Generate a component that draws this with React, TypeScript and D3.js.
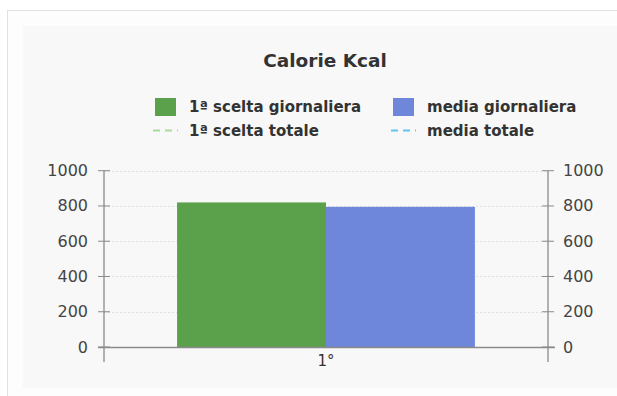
import React from "react";
import * as d3 from "d3";

// Chart data
const categories: string[] = ["1°"];
const seriesNames: string[] = ["1ª scelta giornaliera", "media giornaliera"];
const sceltaGiornaliera: number[] = [820];
const mediaGiornaliera: number[] = [795];
const lineLegend: string[] = ["1ª scelta totale", "media totale"];
const yTicks: number[] = [0, 200, 400, 600, 800, 1000];

const W = 617;
const H = 396;
const FONT = "Verdana, 'DejaVu Sans', sans-serif";

const barColors = ["#5ba14b", "#6f87da"];
const lineColors = ["#a9d99c", "#5cc6ee"];

export default function App() {
  const left = 104;
  const right = 548;
  const top = 170.7;
  const bottom = 347;

  const y = d3.scaleLinear().domain([0, 1000]).range([bottom, top]);
  const x0 = d3.scaleBand<string>().domain(categories).range([left, right]).padding(0.197);
  const x1 = d3
    .scaleBand<string>()
    .domain(seriesNames)
    .range([0, x0.bandwidth()])
    .padding(0);

  const values = [sceltaGiornaliera, mediaGiornaliera];

  const axisColor = "#8a8a8a";
  const tickText = "#444";

  return (
    <div style={{ position: "absolute", left: 0, top: 0 }}>
      <svg width={W} height={H} style={{ display: "block", fontFamily: FONT }}>
        <rect x={0} y={0} width={W} height={H} fill="#ffffff" />
        {/* outer frame */}
        <rect x={7.5} y={10.5} width={W} height={H} fill="#fdfdfd" stroke="#e2e2e2" strokeWidth={1} />
        {/* inner panel */}
        <rect x={23} y={26} width={W - 23} height={362} fill="#f8f8f8" />

        {/* title */}
        <text x={325} y={67} textAnchor="middle" fontSize={18.5} fontWeight="bold" fill="#333">
          Calorie Kcal
        </text>

        {/* legend: bars */}
        {seriesNames.map((name, i) => {
          const lx = i === 0 ? 155 : 393;
          return (
            <g key={name}>
              <rect x={lx} y={98} width={21} height={18} fill={barColors[i]} />
              <text x={lx + 34} y={112} fontSize={15} fontWeight="bold" fill="#333">
                {name}
              </text>
            </g>
          );
        })}
        {/* legend: reference lines */}
        {lineLegend.map((name, i) => {
          const lx = i === 0 ? 153 : 391;
          return (
            <g key={name}>
              <line
                x1={lx}
                x2={lx + 25}
                y1={130.5}
                y2={130.5}
                stroke={lineColors[i]}
                strokeWidth={2}
                strokeDasharray="7,5"
              />
              <text x={lx + 36} y={136} fontSize={15} fontWeight="bold" fill="#333">
                {name}
              </text>
            </g>
          );
        })}

        {/* gridlines */}
        {yTicks.filter((t) => t > 0).map((t) => (
          <line
            key={"g" + t}
            x1={left}
            x2={right}
            y1={Math.round(y(t)) + 0.5}
            y2={Math.round(y(t)) + 0.5}
            stroke="#e0e0e0"
            strokeWidth={1}
            strokeDasharray="2,2"
          />
        ))}

        {/* bars */}
        {categories.map((c, ci) => (
          <g key={c} transform={`translate(${x0(c)},0)`}>
            {seriesNames.map((s, si) => (
              <rect
                key={s}
                x={x1(s)}
                y={y(values[si][ci])}
                width={x1.bandwidth()}
                height={bottom - y(values[si][ci])}
                fill={barColors[si]}
              />
            ))}
          </g>
        ))}

        {/* x axis */}
        <line x1={98} x2={555} y1={bottom + 0.5} y2={bottom + 0.5} stroke={axisColor} strokeWidth={1.5} />
        {categories.map((c) => (
          <text
            key={c}
            x={(x0(c) ?? 0) + x0.bandwidth() / 2}
            y={366}
            textAnchor="middle"
            fontSize={15}
            fill="#333"
          >
            {c}
          </text>
        ))}

        {/* left axis */}
        <line x1={left} x2={left} y1={top} y2={362} stroke={axisColor} strokeWidth={1.3} />
        {yTicks.map((t) => (
          <g key={"l" + t}>
            <line x1={left - 6} x2={left + 6} y1={y(t)} y2={y(t)} stroke={axisColor} strokeWidth={1} />
            <text x={88} y={y(t) + 5.5} textAnchor="end" fontSize={16} fill={tickText}>
              {t}
            </text>
          </g>
        ))}

        {/* right axis */}
        <line x1={right} x2={right} y1={top} y2={362} stroke={axisColor} strokeWidth={1.3} />
        {yTicks.map((t) => (
          <g key={"r" + t}>
            <line x1={right - 6} x2={right + 6} y1={y(t)} y2={y(t)} stroke={axisColor} strokeWidth={1} />
            <text x={563} y={y(t) + 5.5} textAnchor="start" fontSize={16} fill={tickText}>
              {t}
            </text>
          </g>
        ))}
      </svg>
    </div>
  );
}
